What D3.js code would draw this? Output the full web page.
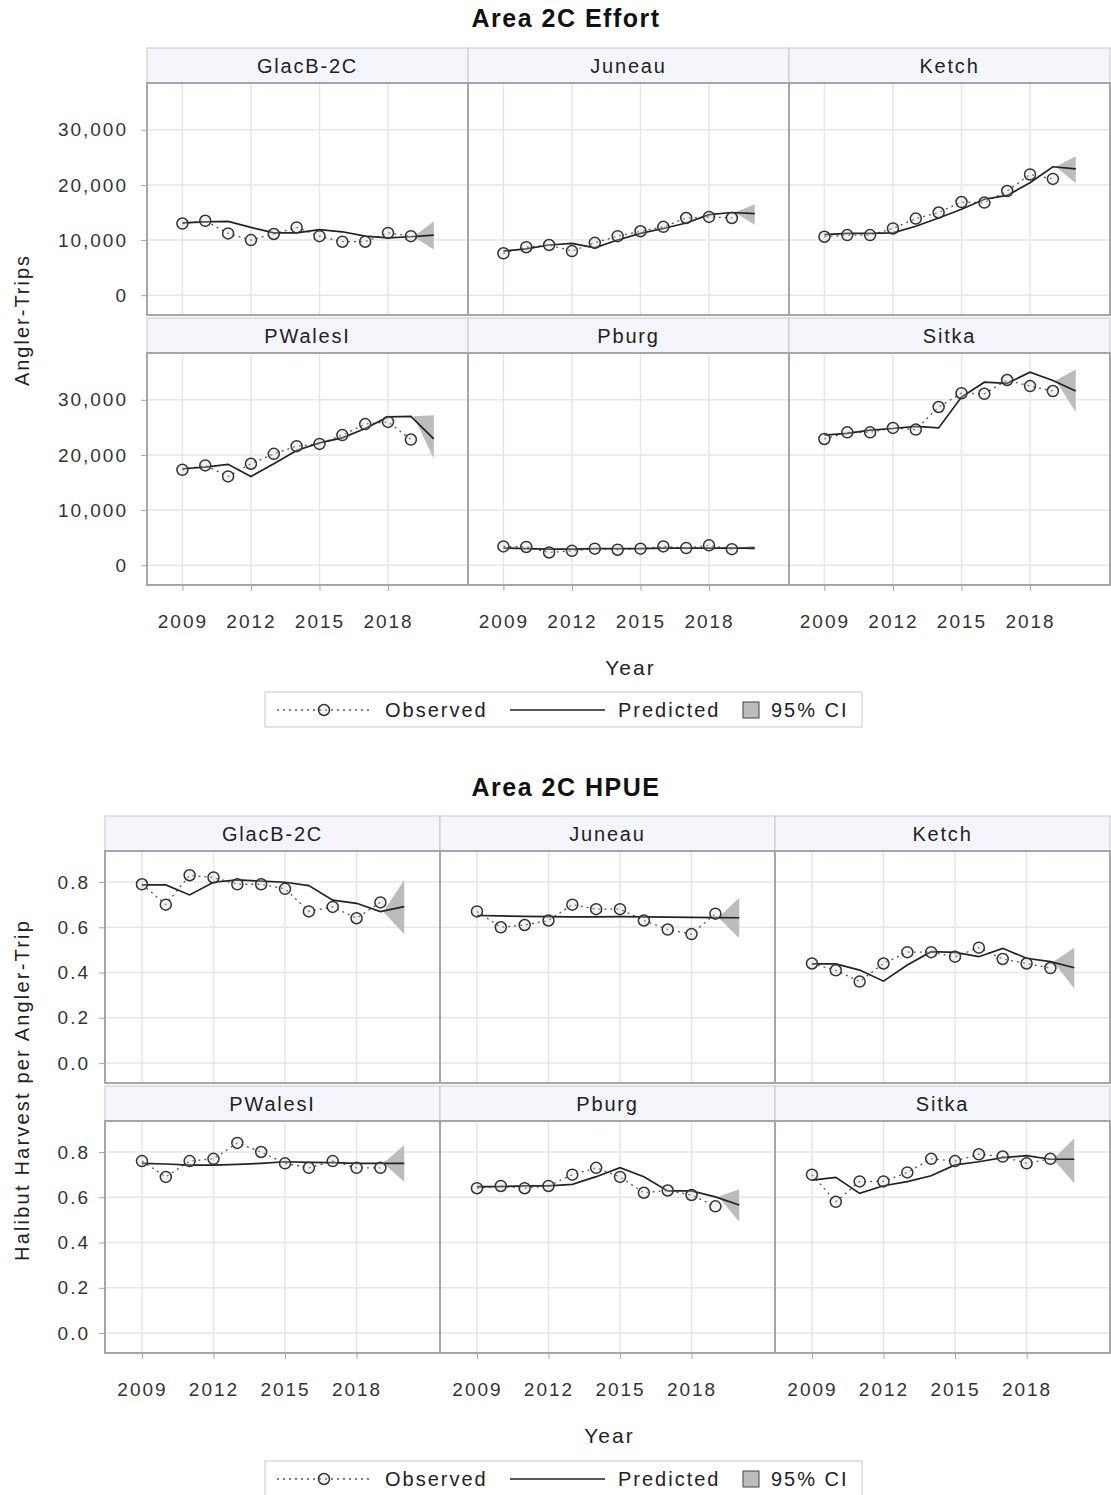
<!DOCTYPE html>
<meta charset="utf-8">
<style>
  body { margin: 0; background: #fff; }
  svg { font-family: "Liberation Sans", Arial, sans-serif; }
  .grid line { stroke: #e6e6e6; stroke-width: 1.5; }
  .frame { fill: none; stroke: #a3a7ab; stroke-width: 2; }
  .strip { fill: #f4f6fc; stroke: #c4c8cc; stroke-width: 1; }
  .tick text { fill: #333; font-size: 19px; letter-spacing: 2px; }
  .tick line { stroke: #a3a7ab; }
  .obs { fill: none; stroke: #555; stroke-width: 1.3; stroke-dasharray: 2 4; }
  .pred { fill: none; stroke: #222; stroke-width: 1.7; }
  .ci { fill: #bcbcbc; }
  .pt { fill: #d8d8d8; fill-opacity: 0.3; stroke: #333; stroke-width: 1.5; }
  .lab { fill: #222; font-size: 20px; letter-spacing: 2px; }
</style>

<svg width="1111" height="1495"></svg>

<script src="https://d3js.org/d3.v7.min.js"></script>

<script>
// panels and years
var areas = ["GlacB-2C", "Juneau", "Ketch", "PWalesI", "Pburg", "Sitka"];
var obsYears = [2009, 2010, 2011, 2012, 2013, 2014, 2015, 2016, 2017, 2018, 2019];
var predYears = [2009, 2010, 2011, 2012, 2013, 2014, 2015, 2016, 2017, 2018, 2019, 2020];
var xTicks = [2009, 2012, 2015, 2018];

// effort (angler-trips)
var effortObs = {
  "GlacB-2C": [13000, 13500, 11200, 10000, 11100, 12300, 10700, 9700, 9700, 11300, 10700],
  "Juneau":   [7600, 8700, 9100, 8000, 9500, 10700, 11600, 12400, 14000, 14200, 14000],
  "Ketch":    [10600, 10900, 10900, 12100, 13900, 15000, 16900, 16800, 18900, 21900, 21100],
  "PWalesI":  [17300, 18100, 16100, 18400, 20200, 21600, 22000, 23600, 25600, 26000, 22800],
  "Pburg":    [3400, 3300, 2300, 2600, 3000, 2800, 3000, 3400, 3100, 3600, 2900],
  "Sitka":    [22900, 24100, 24100, 24900, 24600, 28700, 31200, 31100, 33600, 32500, 31600]
};
var effortPred = {
  "GlacB-2C": [13100, 13300, 13400, 12300, 11300, 11300, 11900, 11500, 10700, 10400, 10600, 10900],
  "Juneau":   [8000, 8400, 9100, 9400, 8600, 10000, 11200, 12100, 13100, 14600, 15000, 14800],
  "Ketch":    [11000, 11200, 11200, 11300, 12500, 14000, 15600, 17400, 18100, 20400, 23300, 22900],
  "PWalesI":  [17500, 17800, 18300, 16100, 18400, 20800, 22200, 23100, 24800, 26900, 27000, 22900],
  "Pburg":    [3100, 3000, 2900, 2900, 3000, 3000, 3000, 3100, 3100, 3100, 3100, 3100],
  "Sitka":    [23600, 23900, 24500, 24800, 25200, 24900, 30500, 33200, 33000, 35000, 33500, 31600]
};
// 95% CI for the 2020 forecast [upper, lower]
var effortCI = {
  "GlacB-2C": [13400, 8300],
  "Juneau":   [16500, 12800],
  "Ketch":    [25200, 20300],
  "PWalesI":  [27200, 19300],
  "Pburg":    [3500, 2700],
  "Sitka":    [35500, 27800]
};

// HPUE (halibut harvest per angler-trip)
var hpueObs = {
  "GlacB-2C": [0.79, 0.70, 0.83, 0.82, 0.79, 0.79, 0.77, 0.67, 0.69, 0.64, 0.71],
  "Juneau":   [0.67, 0.60, 0.61, 0.63, 0.70, 0.68, 0.68, 0.63, 0.59, 0.57, 0.66],
  "Ketch":    [0.44, 0.41, 0.36, 0.44, 0.49, 0.49, 0.47, 0.51, 0.46, 0.44, 0.42],
  "PWalesI":  [0.76, 0.69, 0.76, 0.77, 0.84, 0.80, 0.75, 0.73, 0.76, 0.73, 0.73],
  "Pburg":    [0.64, 0.65, 0.64, 0.65, 0.70, 0.73, 0.69, 0.62, 0.63, 0.61, 0.56],
  "Sitka":    [0.70, 0.58, 0.67, 0.67, 0.71, 0.77, 0.76, 0.79, 0.78, 0.75, 0.77]
};
var hpuePred = {
  "GlacB-2C": [0.787, 0.787, 0.743, 0.799, 0.809, 0.804, 0.799, 0.784, 0.720, 0.706, 0.669, 0.691],
  "Juneau":   [0.652, 0.650, 0.648, 0.647, 0.646, 0.646, 0.647, 0.646, 0.645, 0.644, 0.643, 0.642],
  "Ketch":    [0.438, 0.438, 0.411, 0.362, 0.433, 0.492, 0.489, 0.470, 0.507, 0.463, 0.448, 0.421],
  "PWalesI":  [0.750, 0.747, 0.742, 0.742, 0.745, 0.750, 0.757, 0.754, 0.753, 0.750, 0.750, 0.750],
  "Pburg":    [0.647, 0.647, 0.650, 0.650, 0.657, 0.691, 0.731, 0.691, 0.628, 0.628, 0.602, 0.566],
  "Sitka":    [0.676, 0.688, 0.617, 0.651, 0.669, 0.695, 0.743, 0.757, 0.775, 0.784, 0.768, 0.768]
};
var hpueCI = {
  "GlacB-2C": [0.809, 0.569],
  "Juneau":   [0.731, 0.551],
  "Ketch":    [0.510, 0.330],
  "PWalesI":  [0.831, 0.669],
  "Pburg":    [0.636, 0.492],
  "Sitka":    [0.861, 0.662]
};

var svg = d3.select("svg");

function drawChart(cfg) {
  var g = svg.append("g");
  var colW = (cfg.right - cfg.left) / 3;

  g.append("text")
    .attr("x", 566).attr("y", cfg.titleY)
    .attr("text-anchor", "middle")
    .style("font-size", "25px").style("font-weight", "bold").style("fill", "#111")
    .style("letter-spacing", "1.5px")
    .text(cfg.title);

  var x = d3.scaleLinear().domain([2007.45, 2021.5]);

  areas.forEach(function(a, i) {
    var col = i % 3, row = Math.floor(i / 3);
    var x0 = cfg.left + col * colW, x1 = x0 + colW;
    var stripTop = cfg.rowTops[row];
    var pTop = stripTop + cfg.stripH, pBot = pTop + cfg.plotH;
    var xs = x.copy().range([x0, x1]);
    var ys = d3.scaleLinear().domain(cfg.yDomain).range([pBot, pTop]);

    // header strip
    g.append("rect").attr("class", "strip")
      .attr("x", x0).attr("y", stripTop).attr("width", colW).attr("height", cfg.stripH);
    g.append("text").attr("class", "lab")
      .attr("x", (x0 + x1) / 2).attr("y", stripTop + cfg.stripH / 2 + 7)
      .attr("text-anchor", "middle")
      .style("letter-spacing", "1.8px")
      .text(a);

    // grid
    var grid = g.append("g").attr("class", "grid");
    grid.selectAll(".v").data(xTicks).enter().append("line")
      .attr("x1", xs).attr("x2", xs).attr("y1", pTop).attr("y2", pBot);
    grid.selectAll(".h").data(cfg.yTicks).enter().append("line")
      .attr("x1", x0).attr("x2", x1).attr("y1", ys).attr("y2", ys);

    // CI band for the forecast year
    var ci = cfg.ci[a];
    var p = cfg.pred[a];
    var n = predYears.length;
    g.append("path").attr("class", "ci")
      .attr("d", d3.area()
        .x(function(d) { return xs(d[0]); })
        .y0(function(d) { return ys(d[1]); })
        .y1(function(d) { return ys(d[2]); })([
          [predYears[n - 2] + 0.12, p[n - 2], p[n - 2]],
          [predYears[n - 1], ci[1], ci[0]]
        ]));

    // observed
    var obs = obsYears.map(function(yr, k) { return [yr, cfg.obs[a][k]]; });
    var line = d3.line().x(function(d) { return xs(d[0]); }).y(function(d) { return ys(d[1]); });
    g.append("path").attr("class", "obs").attr("d", line(obs));

    // predicted
    var pred = predYears.map(function(yr, k) { return [yr, p[k]]; });
    g.append("path").attr("class", "pred").attr("d", line(pred));

    g.selectAll(null).data(obs).enter().append("circle").attr("class", "pt")
      .attr("cx", function(d) { return xs(d[0]); })
      .attr("cy", function(d) { return ys(d[1]); })
      .attr("r", 5.5);

    g.append("rect").attr("class", "frame")
      .attr("x", x0).attr("y", pTop).attr("width", colW).attr("height", cfg.plotH);

    // axes
    if (col === 0) {
      g.append("g").attr("transform", "translate(" + x0 + ",0)")
        .call(d3.axisLeft(ys).tickValues(cfg.yTicks).tickFormat(cfg.fmt).tickSize(6).tickPadding(cfg.yPad))
        .call(function(s) { s.select(".domain").remove(); });
    }
    if (row === 1) {
      g.append("g").attr("transform", "translate(0," + pBot + ")")
        .call(d3.axisBottom(xs).tickValues(xTicks).tickFormat(d3.format("d")).tickSize(6).tickPadding(24))
        .call(function(s) { s.select(".domain").remove(); });
    }
  });

  // axis titles
  g.append("text").attr("class", "lab")
    .attr("transform", "translate(29," + cfg.yLabelY + ") rotate(-90)")
    .attr("text-anchor", "middle")
    .style("letter-spacing", cfg.yLabelSp)
    .text(cfg.yLabel);
  g.append("text").attr("class", "lab")
    .attr("x", (cfg.left + cfg.right) / 2 + 2).attr("y", cfg.xLabelY)
    .attr("text-anchor", "middle")
    .style("font-size", "21px")
    .text("Year");

  // legend
  var lg = g.append("g").attr("transform", "translate(265," + cfg.legendY + ")");
  lg.append("rect").attr("width", 597).attr("height", 35)
    .attr("fill", "#fff").attr("stroke", "#c8c8c8");
  var cy = 18;
  lg.append("line").attr("class", "obs").attr("x1", 12).attr("x2", 106).attr("y1", cy).attr("y2", cy);
  lg.append("circle").attr("class", "pt").attr("cx", 59).attr("cy", cy).attr("r", 5.5);
  lg.append("text").attr("class", "lab").attr("x", 120).attr("y", cy + 7).text("Observed");
  lg.append("line").attr("class", "pred").attr("x1", 245).attr("x2", 340).attr("y1", cy).attr("y2", cy);
  lg.append("text").attr("class", "lab").attr("x", 353).attr("y", cy + 7).text("Predicted");
  lg.append("rect").attr("x", 478).attr("y", cy - 8).attr("width", 16).attr("height", 16)
    .attr("fill", "#bcbcbc").attr("stroke", "#444");
  lg.append("text").attr("class", "lab").attr("x", 506).attr("y", cy + 7).text("95% CI");
}

drawChart({
  title: "Area 2C Effort", titleY: 27,
  left: 147, right: 1110,
  rowTops: [48, 318], stripH: 35, plotH: 232,
  yDomain: [-3600, 38500], yTicks: [0, 10000, 20000, 30000], fmt: d3.format(","), yPad: 13,
  obs: effortObs, pred: effortPred, ci: effortCI,
  yLabel: "Angler-Trips", yLabelY: 320, yLabelSp: "2px",
  xLabelY: 675, legendY: 692
});

drawChart({
  title: "Area 2C HPUE", titleY: 796,
  left: 105, right: 1110,
  rowTops: [816, 1086], stripH: 35, plotH: 232,
  yDomain: [-0.088, 0.937], yTicks: [0, 0.2, 0.4, 0.6, 0.8], fmt: d3.format(".1f"), yPad: 9,
  obs: hpueObs, pred: hpuePred, ci: hpueCI,
  yLabel: "Halibut Harvest per Angler-Trip", yLabelY: 1090, yLabelSp: "2.2px",
  xLabelY: 1443, legendY: 1461
});
</script>
